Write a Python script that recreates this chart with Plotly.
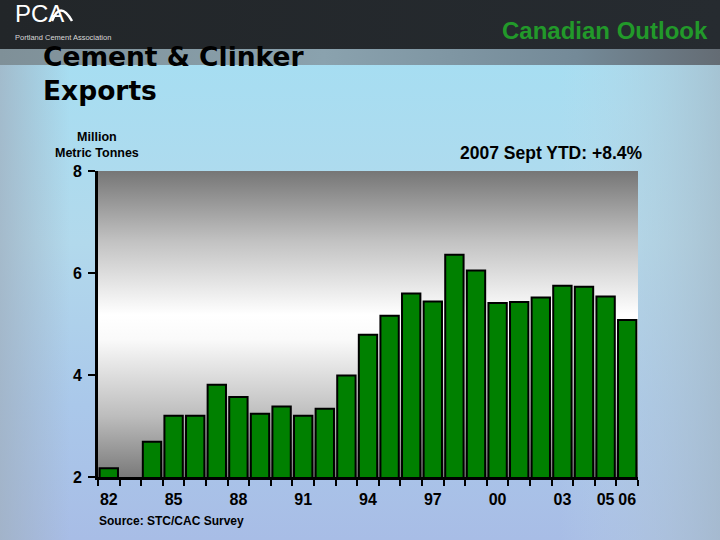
import base64
import plotly.graph_objects as go

# ---------------- data ----------------
years = [str(y) for y in range(1982, 2007)]
exports = [2.17, 1.90, 2.69, 3.20, 3.20, 3.81, 3.57, 3.24, 3.38, 3.20,
           3.34, 3.99, 4.79, 5.16, 5.60, 5.44, 6.36, 6.05, 5.41, 5.43,
           5.52, 5.75, 5.73, 5.54, 5.08]
tick_labels = ["82", "", "", "85", "", "", "88", "", "", "91", "", "", "94",
               "", "", "97", "", "", "00", "", "", "03", "", "05", "06"]
y_ticks = [2, 4, 6, 8]

# ---------------- geometry ----------------
W, H = 720, 540
L, R, T, B = 98, 82, 171, 63
PW, PH = W - L - R, H - T - B


def px(x):
    return (x - L) / PW


def py(y):
    return (H - B - y) / PH


def svg_uri(svg):
    return "data:image/svg+xml;base64," + base64.b64encode(svg.encode()).decode()


bg_svg = f"""<svg xmlns="http://www.w3.org/2000/svg" width="{W}" height="{H}" viewBox="0 0 {W} {H}">
<defs>
<linearGradient id="v" x1="0" y1="0" x2="0" y2="1">
<stop offset="0.10" stop-color="#a6def2"/>
<stop offset="0.45" stop-color="#b2d9ec"/>
<stop offset="0.75" stop-color="#aac8ea"/>
<stop offset="1" stop-color="#a8bde6"/>
</linearGradient>
<linearGradient id="lft" x1="0" y1="0" x2="1" y2="0">
<stop offset="0" stop-color="#a0b0c0" stop-opacity="0.75"/>
<stop offset="1" stop-color="#a0b0c0" stop-opacity="0"/>
</linearGradient>
<linearGradient id="rgt" x1="0" y1="0" x2="1" y2="0">
<stop offset="0" stop-color="#c4dcea" stop-opacity="0"/>
<stop offset="1" stop-color="#a4b8c6" stop-opacity="0.7"/>
</linearGradient>
<linearGradient id="hdr" x1="0" y1="0" x2="1" y2="0">
<stop offset="0" stop-color="#222629"/>
<stop offset="1" stop-color="#262b30"/>
</linearGradient>
<linearGradient id="band" x1="0" y1="0" x2="1" y2="0">
<stop offset="0" stop-color="#7f9098"/>
<stop offset="0.45" stop-color="#8aa2ae"/>
<stop offset="0.8" stop-color="#748a98"/>
<stop offset="1" stop-color="#646c74"/>
</linearGradient>
</defs>
<rect x="0" y="0" width="{W}" height="{H}" fill="url(#v)"/>
<rect x="0" y="60" width="70" height="{H}" fill="url(#lft)"/>
<rect x="560" y="60" width="160" height="{H}" fill="url(#rgt)"/>
<rect x="0" y="0" width="{W}" height="49" fill="url(#hdr)"/>
<rect x="0" y="49" width="{W}" height="16" fill="url(#band)"/>
</svg>"""

plot_svg = f"""<svg xmlns="http://www.w3.org/2000/svg" width="{PW}" height="{PH}" viewBox="0 0 {PW} {PH}">
<defs>
<linearGradient id="g" x1="0" y1="0" x2="0" y2="1">
<stop offset="0" stop-color="#767676"/>
<stop offset="0.23" stop-color="#c2c2c2"/>
<stop offset="0.47" stop-color="#ffffff"/>
<stop offset="0.55" stop-color="#fafafa"/>
<stop offset="0.80" stop-color="#bdbdbd"/>
<stop offset="1" stop-color="#7a7a7a"/>
</linearGradient>
</defs>
<rect x="0" y="0" width="{PW}" height="{PH}" fill="url(#g)"/>
</svg>"""

fig = go.Figure()
fig.add_trace(go.Bar(
    x=years, y=exports,
    marker=dict(color="#008000", line=dict(color="black", width=2)),
    hoverinfo="x+y",
))

FONT = "Liberation Sans, Arial, sans-serif"

fig.update_layout(
    width=W, height=H,
    margin=dict(l=L, r=R, t=T, b=B, pad=0),
    paper_bgcolor="#b0d6ea",
    plot_bgcolor="rgba(0,0,0,0)",
    showlegend=False,
    bargap=0.15,
    font=dict(family=FONT, color="black"),
    images=[
        dict(source=svg_uri(bg_svg), xref="paper", yref="paper",
             x=px(0), y=py(0), sizex=W / PW, sizey=H / PH,
             xanchor="left", yanchor="top", sizing="stretch", layer="below"),
        dict(source=svg_uri(plot_svg), xref="paper", yref="paper",
             x=0, y=1, sizex=1, sizey=1,
             xanchor="left", yanchor="top", sizing="stretch", layer="below"),
    ],
    xaxis=dict(
        type="category", tickmode="array", tickvals=years, ticktext=tick_labels,
        tickson="boundaries", ticks="outside", ticklen=6, tickwidth=2,
        tickcolor="black", showline=True, linecolor="black", linewidth=3,
        showgrid=False, zeroline=False, fixedrange=True,
        tickfont=dict(family=FONT, size=16, color="black", weight="bold"),
        tickangle=0, ticklabelstandoff=6,
    ),
    yaxis=dict(
        range=[2, 8], tickmode="array", tickvals=y_ticks,
        ticks="outside", ticklen=7, tickwidth=2, tickcolor="black",
        showline=True, linecolor="black", linewidth=3,
        showgrid=False, zeroline=False, fixedrange=True,
        tickfont=dict(family=FONT, size=16, color="black", weight="bold"),
        ticklabelstandoff=3,
    ),
)

anns = [
    dict(text="Cement &amp; Clinker<br>Exports", x=px(41), y=py(73), xanchor="left",
         yanchor="middle", align="left",
         font=dict(family="DejaVu Sans, sans-serif", size=26.5, color="black", weight="bold")),
    dict(text="Canadian Outlook", x=px(710), y=py(30.5), xanchor="right", yanchor="middle",
         font=dict(family=FONT, size=24, color="#22992a", weight="bold")),
    dict(text="Million<br>Metric Tonnes", x=px(96.5), y=py(145), xanchor="center",
         yanchor="middle", align="center",
         font=dict(family=FONT, size=12.5, color="black", weight="bold")),
    dict(text="2007 Sept YTD: +8.4%", x=px(644), y=py(153), xanchor="right", yanchor="middle",
         font=dict(family=FONT, size=17.5, color="black", weight="bold")),
    dict(text="Source: STC/CAC Survey", x=px(97), y=py(520.5), xanchor="left", yanchor="middle",
         font=dict(family=FONT, size=12, color="black", weight="bold")),
    dict(text="PCA", x=px(13), y=py(13), xanchor="left", yanchor="middle",
         font=dict(family=FONT, size=24, color="white")),
    dict(text="Portland Cement Association", x=px(13), y=py(37.5), xanchor="left", yanchor="middle",
         font=dict(family=FONT, size=7.5, color="#d8d8d8")),
]
for a in anns:
    a.update(xref="paper", yref="paper", showarrow=False)
fig.update_layout(annotations=anns)

# logo swoosh
fig.add_shape(type="path", xref="paper", yref="paper", layer="above",
              path=f"M {px(52)},{py(21)} Q {px(60)},{py(0)} {px(72)},{py(21)}",
              line=dict(color="white", width=2.5))

fig.write_html(
    "out.html",
    config={"displayModeBar": False},
    post_script="document.body.style.margin='0';document.body.style.overflow='hidden';",
)
